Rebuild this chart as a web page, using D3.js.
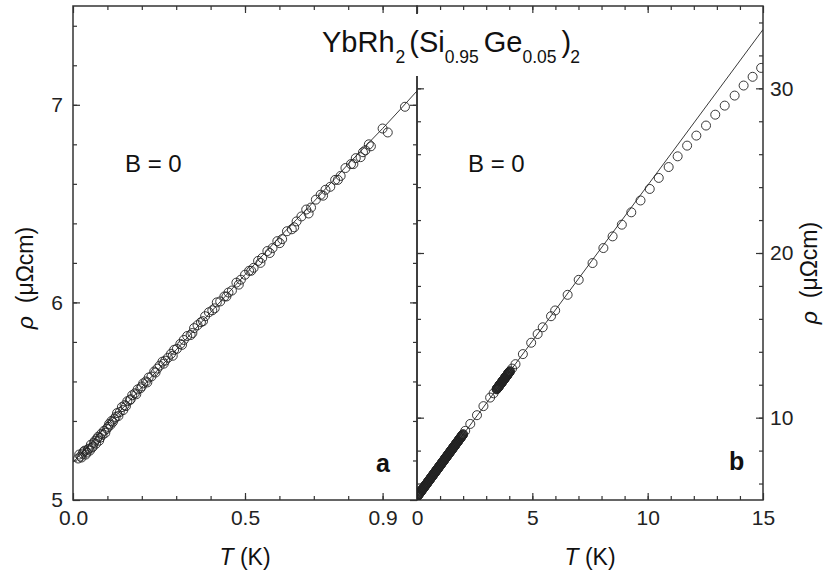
<!DOCTYPE html>
<html>
<head>
<meta charset="utf-8">
<script src="https://cdn.jsdelivr.net/npm/d3@7/dist/d3.min.js"></script>
<style>
  body { margin: 0; background: #fff; }
  svg { font-family: "Liberation Sans", Arial, Helvetica, sans-serif; }
  .axis path { display: none; }
  .axis line { stroke: #333; stroke-width: 1.2; }
  .axis text { font-size: 21px; fill: #222; }
  .frame { fill: none; stroke: #333; stroke-width: 1.5; }
  .pt { fill: none; stroke: #222; stroke-width: 0.9; }
  .fit { fill: none; stroke: #222; stroke-width: 0.9; }
</style>
</head>
<body>
<div id="container"></div>
<script>
// panel a : rho(T) below 1 K, two sweeps
var tempA = [0.015, 0.022, 0.028, 0.034, 0.040, 0.046, 0.052, 0.058, 0.064, 0.070,
  0.076, 0.082, 0.090, 0.098, 0.105, 0.112, 0.120, 0.128, 0.136, 0.142,
  0.150, 0.158, 0.165, 0.172, 0.180, 0.188, 0.196, 0.204, 0.212, 0.220,
  0.228, 0.236, 0.245, 0.252, 0.260, 0.268, 0.276, 0.285, 0.294, 0.302,
  0.312, 0.322, 0.332, 0.342, 0.352, 0.362, 0.372, 0.384, 0.395, 0.405,
  0.418, 0.428, 0.440, 0.452, 0.462, 0.475, 0.488, 0.500, 0.512, 0.525,
  0.538, 0.550, 0.565, 0.580, 0.594, 0.608, 0.622, 0.636, 0.650, 0.664,
  0.678, 0.692, 0.706, 0.720, 0.734, 0.748, 0.762, 0.778, 0.792, 0.808,
  0.822, 0.836, 0.850, 0.866, 0.900, 0.965]
var rhoA = [5.21, 5.22, 5.235, 5.25, 5.24, 5.26, 5.28, 5.27, 5.30, 5.31,
  5.30, 5.335, 5.35, 5.36, 5.385, 5.40, 5.41, 5.44, 5.445, 5.47,
  5.48, 5.50, 5.505, 5.53, 5.54, 5.56, 5.565, 5.59, 5.60, 5.62,
  5.625, 5.65, 5.665, 5.68, 5.70, 5.705, 5.72, 5.74, 5.76, 5.765,
  5.79, 5.81, 5.83, 5.835, 5.87, 5.885, 5.90, 5.93, 5.95, 5.96,
  6.00, 6.005, 6.03, 6.05, 6.06, 6.10, 6.115, 6.14, 6.16, 6.175,
  6.21, 6.225, 6.26, 6.275, 6.31, 6.32, 6.36, 6.37, 6.41, 6.435,
  6.47, 6.48, 6.52, 6.545, 6.57, 6.585, 6.62, 6.64, 6.68, 6.70,
  6.73, 6.735, 6.77, 6.79, 6.88, 6.99]
var tempA2 = [0.018, 0.025, 0.031, 0.037, 0.043, 0.049, 0.055, 0.061, 0.067, 0.073,
  0.079, 0.086, 0.094, 0.102, 0.109, 0.116, 0.124, 0.132, 0.146, 0.154,
  0.168, 0.184, 0.200, 0.216, 0.240, 0.264, 0.290, 0.317, 0.347, 0.378,
  0.412, 0.446, 0.482, 0.518, 0.545, 0.572, 0.601, 0.643, 0.685, 0.727,
  0.770, 0.815, 0.843, 0.860, 0.915]
var rhoA2 = [5.23, 5.215, 5.245, 5.23, 5.255, 5.25, 5.265, 5.29, 5.285, 5.32,
  5.315, 5.33, 5.34, 5.37, 5.38, 5.395, 5.42, 5.425, 5.455, 5.475,
  5.51, 5.535, 5.575, 5.595, 5.645, 5.69, 5.73, 5.785, 5.845, 5.905,
  5.97, 6.03, 6.09, 6.16, 6.20, 6.25, 6.30, 6.38, 6.45, 6.54,
  6.62, 6.70, 6.76, 6.80, 6.86]
var fitTA = [0, 0.1, 0.2, 0.3, 0.4, 0.5, 0.6, 0.7, 0.8, 0.9, 1.0]
var fitRhoA = [5.19, 5.38, 5.57, 5.76, 5.95, 6.14, 6.33, 6.51, 6.70, 6.88, 7.07]

// panel b : rho(T) up to 15 K
var tempB = [0.000, 0.025, 0.050, 0.075, 0.100, 0.125, 0.150, 0.175, 0.200, 0.225,
  0.250, 0.275, 0.300, 0.325, 0.350, 0.375, 0.400, 0.425, 0.450, 0.475,
  0.500, 0.525, 0.550, 0.575, 0.600, 0.625, 0.650, 0.675, 0.700, 0.725,
  0.750, 0.775, 0.800, 0.825, 0.850, 0.875, 0.900, 0.925, 0.950, 0.975,
  1.000, 1.025, 1.050, 1.075, 1.100, 1.125, 1.150, 1.175, 1.200, 1.225,
  1.250, 1.275, 1.300, 1.325, 1.350, 1.375, 1.400, 1.425, 1.450, 1.475,
  1.500, 1.525, 1.550, 1.575, 1.600, 1.625, 1.650, 1.675, 1.700, 1.725,
  1.750, 1.775, 1.800, 1.825, 1.850, 1.875, 1.900, 1.925, 1.950, 1.975, 2.000,
  2.09, 2.31, 2.60, 2.88, 3.17, 3.32,
  3.45, 3.47, 3.49, 3.51, 3.53, 3.55, 3.57, 3.59, 3.61, 3.63,
  3.65, 3.67, 3.69, 3.71, 3.73, 3.75, 3.77, 3.79, 3.81, 3.83,
  3.85, 3.87, 3.89, 3.91, 3.93, 3.95, 3.97, 3.99, 4.01, 4.03,
  4.12, 4.27, 4.59, 4.95, 5.23, 5.45, 5.81, 5.99, 6.53, 7.01, 7.61,
  8.08, 8.48, 8.88, 9.29, 9.69, 10.09, 10.48, 10.91, 11.30, 11.71,
  12.11, 12.53, 12.93, 13.34, 13.77, 14.16, 14.55, 14.92]
var rhoB = [5.20, 5.25, 5.29, 5.34, 5.39, 5.44, 5.48, 5.53, 5.58, 5.62,
  5.67, 5.72, 5.77, 5.81, 5.86, 5.91, 5.96, 6.00, 6.05, 6.10,
  6.15, 6.19, 6.24, 6.29, 6.34, 6.38, 6.43, 6.48, 6.53, 6.57,
  6.62, 6.67, 6.72, 6.76, 6.81, 6.86, 6.91, 6.95, 7.00, 7.05,
  7.10, 7.14, 7.19, 7.24, 7.29, 7.33, 7.38, 7.43, 7.48, 7.52,
  7.57, 7.62, 7.67, 7.71, 7.76, 7.81, 7.86, 7.90, 7.95, 8.00,
  8.05, 8.09, 8.14, 8.19, 8.24, 8.28, 8.33, 8.38, 8.43, 8.47,
  8.52, 8.57, 8.62, 8.66, 8.71, 8.76, 8.81, 8.85, 8.90, 8.95, 9.00,
  9.20, 9.62, 10.15, 10.70, 11.22, 11.48,
  11.72, 11.76, 11.80, 11.83, 11.87, 11.91, 11.95, 11.99, 12.02, 12.06,
  12.10, 12.14, 12.17, 12.21, 12.25, 12.29, 12.33, 12.36, 12.40, 12.44,
  12.48, 12.51, 12.55, 12.59, 12.63, 12.67, 12.70, 12.74, 12.78, 12.82,
  12.98, 13.25, 13.86, 14.55, 15.08, 15.49, 16.16, 16.51, 17.46, 18.37, 19.39,
  20.30, 21.01, 21.72, 22.47, 23.19, 23.89, 24.56, 25.22, 25.87, 26.52,
  27.13, 27.74, 28.40, 28.95, 29.56, 30.17, 30.70, 31.24]
// second (interleaved) sweep of the dense low-T stretches
var tempB2 = [0.0125, 0.0375, 0.0625, 0.0875, 0.1125, 0.1375, 0.1625, 0.1875, 0.2125, 0.2375,
  0.2625, 0.2875, 0.3125, 0.3375, 0.3625, 0.3875, 0.4125, 0.4375, 0.4625, 0.4875,
  0.5125, 0.5375, 0.5625, 0.5875, 0.6125, 0.6375, 0.6625, 0.6875, 0.7125, 0.7375,
  0.7625, 0.7875, 0.8125, 0.8375, 0.8625, 0.8875, 0.9125, 0.9375, 0.9625, 0.9875,
  1.0125, 1.0375, 1.0625, 1.0875, 1.1125, 1.1375, 1.1625, 1.1875, 1.2125, 1.2375,
  1.2625, 1.2875, 1.3125, 1.3375, 1.3625, 1.3875, 1.4125, 1.4375, 1.4625, 1.4875,
  1.5125, 1.5375, 1.5625, 1.5875, 1.6125, 1.6375, 1.6625, 1.6875, 1.7125, 1.7375,
  1.7625, 1.7875, 1.8125, 1.8375, 1.8625, 1.8875, 1.9125, 1.9375, 1.9625, 1.9875,
  3.46, 3.48, 3.50, 3.52, 3.54, 3.56, 3.58, 3.60, 3.62, 3.64,
  3.66, 3.68, 3.70, 3.72, 3.74, 3.76, 3.78, 3.80, 3.82, 3.84,
  3.86, 3.88, 3.90, 3.92, 3.94, 3.96, 3.98, 4.00, 4.02]
var rhoB2 = [5.22, 5.27, 5.32, 5.36, 5.41, 5.46, 5.51, 5.55, 5.60, 5.65,
  5.69, 5.74, 5.79, 5.84, 5.88, 5.93, 5.98, 6.03, 6.07, 6.12,
  6.17, 6.22, 6.26, 6.31, 6.36, 6.41, 6.45, 6.50, 6.55, 6.60,
  6.64, 6.69, 6.74, 6.79, 6.83, 6.88, 6.93, 6.98, 7.02, 7.07,
  7.12, 7.17, 7.21, 7.26, 7.31, 7.36, 7.40, 7.45, 7.50, 7.55,
  7.59, 7.64, 7.69, 7.74, 7.78, 7.83, 7.88, 7.93, 7.97, 8.02,
  8.07, 8.12, 8.16, 8.21, 8.26, 8.31, 8.35, 8.40, 8.45, 8.50,
  8.54, 8.59, 8.64, 8.69, 8.73, 8.78, 8.83, 8.88, 8.92, 8.97,
  11.74, 11.78, 11.815, 11.85, 11.89, 11.93, 11.97, 12.005, 12.04, 12.08,
  12.12, 12.155, 12.19, 12.23, 12.27, 12.31, 12.345, 12.38, 12.42, 12.46,
  12.495, 12.53, 12.57, 12.61, 12.65, 12.685, 12.72, 12.76, 12.80]
var fitTB = [0, 15]
var fitRhoB = [5.19, 33.57]

// tick labels
var majorXA = [0, 0.5, 0.9]
var majorYA = [5, 6, 7]
var majorXB = [0, 5, 10, 15]
var majorYB = [10, 20, 30]

var WIDTH = 833, HEIGHT = 578
var top0 = 6, bottom0 = 500
var leftA = 73, split = 417, rightB = 763

var svg = d3.select("div#container")
  .append("svg")
  .attr("width", WIDTH)
  .attr("height", HEIGHT)

var xA = d3.scaleLinear().domain([0, 1.0]).range([leftA, split])
var yA = d3.scaleLinear().domain([5, 7.5]).range([bottom0, top0])
var xB = d3.scaleLinear().domain([0, 15]).range([split, rightB])
var yB = d3.scaleLinear().domain([5, 35]).range([bottom0, top0])

var MAJ = 7, MIN = 4

// inward ticks on all four sides of a panel
function panelTicks(x, y, minX, majX, minY, majY, xFmt, yLabelsRight) {
  var x0 = x.range()[0], x1 = x.range()[1]

  // bottom
  svg.append("g").attr("class", "axis").attr("transform", `translate(0, ${bottom0})`)
    .call(d3.axisBottom(x).tickValues(minX).tickSize(-MIN).tickFormat(""))
  svg.append("g").attr("class", "axis").attr("transform", `translate(0, ${bottom0})`)
    .call(d3.axisBottom(x).tickValues(majX).tickSize(-MAJ).tickPadding(10).tickFormat(xFmt))
  // top
  svg.append("g").attr("class", "axis").attr("transform", `translate(0, ${top0})`)
    .call(d3.axisTop(x).tickValues(minX).tickSize(-MIN).tickFormat(""))
  svg.append("g").attr("class", "axis").attr("transform", `translate(0, ${top0})`)
    .call(d3.axisTop(x).tickValues(majX).tickSize(-MAJ).tickFormat(""))
  // left
  svg.append("g").attr("class", "axis").attr("transform", `translate(${x0}, 0)`)
    .call(d3.axisLeft(y).tickValues(minY).tickSize(-MIN).tickFormat(""))
  svg.append("g").attr("class", "axis").attr("transform", `translate(${x0}, 0)`)
    .call(d3.axisLeft(y).tickValues(majY).tickSize(-MAJ).tickPadding(10)
      .tickFormat(yLabelsRight ? "" : d3.format("d")))
  // right
  svg.append("g").attr("class", "axis").attr("transform", `translate(${x1}, 0)`)
    .call(d3.axisRight(y).tickValues(minY).tickSize(-MIN).tickFormat(""))
  svg.append("g").attr("class", "axis").attr("transform", `translate(${x1}, 0)`)
    .call(d3.axisRight(y).tickValues(majY).tickSize(-MAJ).tickPadding(7)
      .tickFormat(yLabelsRight ? d3.format("d") : ""))

  svg.append("rect").attr("class", "frame")
    .attr("x", x0).attr("y", top0)
    .attr("width", x1 - x0).attr("height", bottom0 - top0)
}

panelTicks(xA, yA,
  d3.range(0.1, 1.0, 0.1), majorXA,
  d3.range(5.2, 7.5, 0.2), majorYA,
  d3.format(".1f"), false)
panelTicks(xB, yB,
  d3.range(1, 15, 1), majorXB,
  d3.range(6, 35, 2), majorYB,
  d3.format("d"), true)

// data + fits
function drawPanel(x, y, sets, fitT, fitR, curve, id) {
  svg.append("clipPath").attr("id", id)
    .append("rect")
    .attr("x", x.range()[0]).attr("y", top0)
    .attr("width", x.range()[1] - x.range()[0]).attr("height", bottom0 - top0)

  var g = svg.append("g").attr("clip-path", `url(#${id})`)

  var pts = []
  sets.forEach(s => s[0].forEach((t, i) => pts.push({T: t, R: s[1][i]})))
  g.selectAll("circle").data(pts).enter().append("circle")
    .attr("class", "pt")
    .attr("cx", d => x(d.T))
    .attr("cy", d => y(d.R))
    .attr("r", 4.5)

  var fit = fitT.map((t, i) => ({T: t, R: fitR[i]}))
  g.append("path").datum(fit)
    .attr("class", "fit")
    .attr("d", d3.line().curve(curve).x(d => x(d.T)).y(d => y(d.R)))
}

drawPanel(xA, yA, [[tempA, rhoA], [tempA2, rhoA2]], fitTA, fitRhoA, d3.curveMonotoneX, "clipA")
drawPanel(xB, yB, [[tempB, rhoB], [tempB2, rhoB2]], fitTB, fitRhoB, d3.curveLinear, "clipB")

// title sits on a blank patch that interrupts the panel divider
svg.append("rect").attr("x", 312).attr("y", 14).attr("width", 276).attr("height", 62).attr("fill", "#fff")

var title = svg.append("text").attr("x", 322).attr("y", 52)
  .style("font-size", "29px").attr("fill", "#111")
title.append("tspan").text("YbRh")
title.append("tspan").attr("dy", 11).attr("dx", 1).style("font-size", "17.5px").text("2")
title.append("tspan").attr("dy", -11).attr("dx", 4).text("(Si")
title.append("tspan").attr("dy", 11).style("font-size", "17.5px").text("0.95")
title.append("tspan").attr("dy", -11).attr("dx", 5).text("Ge")
title.append("tspan").attr("dy", 11).style("font-size", "17.5px").text("0.05")
title.append("tspan").attr("dy", -11).attr("dx", 5).text(")")
title.append("tspan").attr("dy", 11).attr("dx", -1).style("font-size", "17.5px").text("2")

// panel annotations
svg.append("text").attr("x", 125).attr("y", 172).style("font-size", "24px").attr("fill", "#111").text("B = 0")
svg.append("text").attr("x", 468).attr("y", 172).style("font-size", "24px").attr("fill", "#111").text("B = 0")
svg.append("text").attr("x", 376).attr("y", 472).style("font-size", "25px").style("font-weight", "bold").attr("fill", "#111").text("a")
svg.append("text").attr("x", 729).attr("y", 470).style("font-size", "25px").style("font-weight", "bold").attr("fill", "#111").text("b")

// axis titles
function tLabel(cx) {
  var t = svg.append("text").attr("x", cx).attr("y", 565)
    .attr("text-anchor", "middle").style("font-size", "23px").attr("fill", "#111")
  t.append("tspan").style("font-style", "italic").text("T")
  t.append("tspan").text(" (K)")
}
tLabel(xA(0.5))
tLabel(xB(7.5))

function rhoLabel(bx, cy) {
  var t = svg.append("text")
    .attr("transform", `translate(${bx}, ${cy}) rotate(-90)`)
    .attr("text-anchor", "middle").style("font-size", "23px").attr("fill", "#111")
    .attr("xml:space", "preserve")
  t.append("tspan").style("font-style", "italic").text("\u03c1")
  t.append("tspan").text("  (\u03bc\u03a9cm)")
}
rhoLabel(33, 278)
rhoLabel(817, 273)
</script>
</body>
</html>
